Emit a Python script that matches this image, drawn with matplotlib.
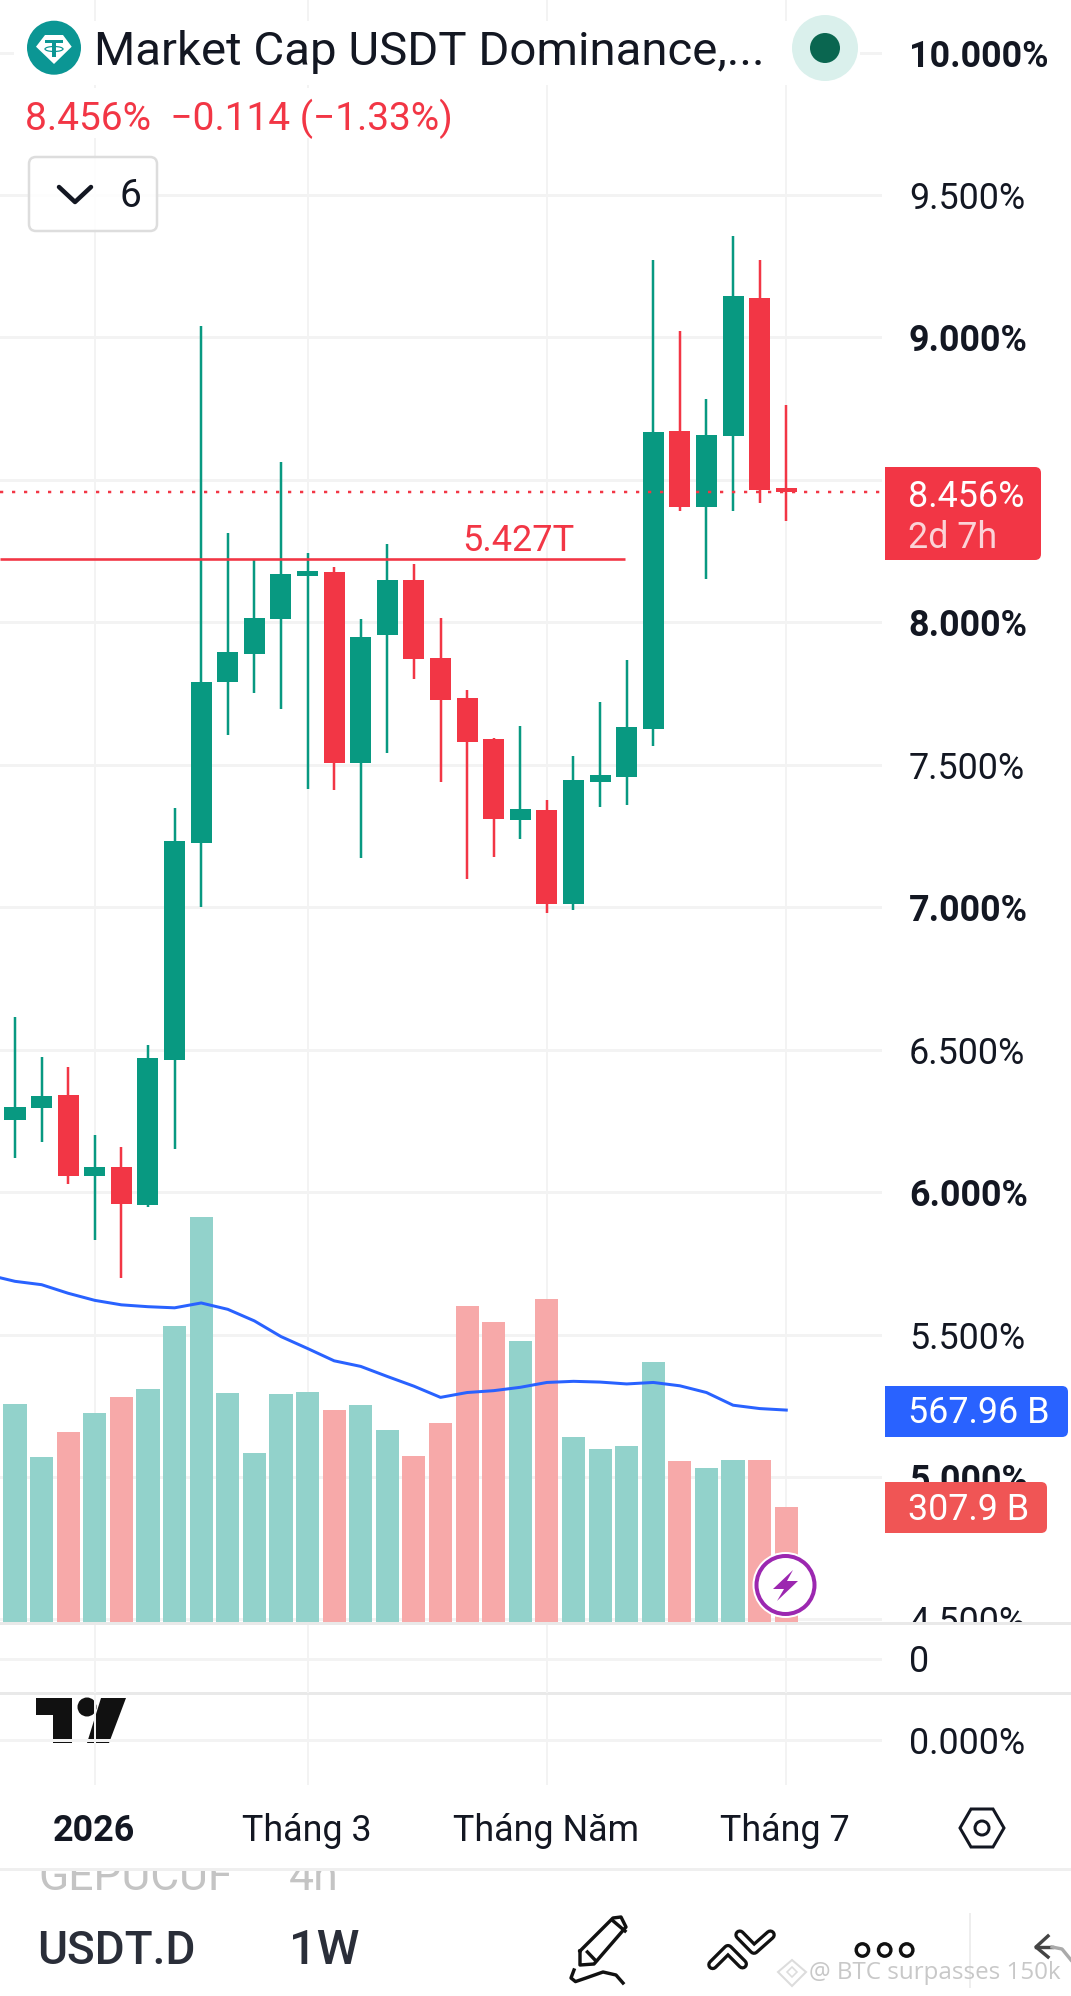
import matplotlib
matplotlib.use("Agg")
import matplotlib.pyplot as plt
from matplotlib.patches import Circle, Polygon, FancyBboxPatch, Rectangle, Ellipse
from matplotlib.lines import Line2D
from matplotlib.path import Path
from matplotlib.patches import PathPatch

plt.rcParams['font.family'] = ['Roboto', 'DejaVu Sans']

# ---------- data ----------
opens = [6.253, 6.295, 6.342, 6.056, 6.0875, 5.956, 6.4625, 7.227, 7.792, 7.889, 8.011, 8.1625, 8.177, 7.506, 7.955,
         8.148, 7.875, 7.736, 7.589, 7.306, 7.341, 7.0125, 7.439, 7.458, 7.625, 8.671, 8.404, 8.6525, 9.1375, 8.47]
closes = [6.297, 6.339, 6.058, 6.0875, 5.959, 6.469, 7.231, 7.792, 7.894, 8.016, 8.170, 8.18, 7.506, 7.95, 8.148,
          7.87, 7.727, 7.58, 7.311, 7.344, 7.0125, 7.448, 7.4625, 7.634, 8.669, 8.404, 8.6575, 9.144, 8.466, 8.456]
highs = [6.616, 6.475, 6.4375, 6.2, 6.158, 6.517, 7.347, 9.039, 8.315, 8.218, 8.564, 8.2425, 8.194, 8.0125, 8.276,
         8.206, 8.016, 7.764, 7.595, 7.6375, 7.375, 7.53, 7.719, 7.869, 9.27, 9.021, 8.784, 9.3575, 9.27, 8.7625]
lows = [6.12, 6.177, 6.03, 5.833, 5.697, 5.947, 6.152, 7.0, 7.605, 7.753, 7.695, 7.416, 7.4125, 7.173, 7.54,
        7.8, 7.439, 7.1, 7.177, 7.241, 6.978, 6.989, 7.352, 7.359, 7.566, 8.39, 8.153, 8.39, 8.4175, 8.354]
volumes = [584, 442, 509, 559, 602, 624, 793, 1085, 614, 452, 611, 616, 567, 581, 514, 444, 532, 846, 804, 753, 866,
           497, 464, 472, 696, 432, 412, 434, 434, 307.9]
ma_x = list(range(-1, 30))
ma_values = [930, 913, 904, 881, 862, 850, 845, 842, 855, 838, 807, 765, 733, 700, 685, 658, 632, 602, 615, 620, 629,
             642, 645, 643, 638, 642, 633, 615, 581, 572, 567.96]
major_ticks = [10.0, 9.5, 9.0, 8.5, 8.0, 7.5, 7.0, 6.5, 6.0, 5.5, 5.0, 4.5]
bold_ticks = [10.0, 9.0, 8.0, 7.0, 6.0, 5.0]
time_idx = [3, 11, 20, 29]
time_labels = ['2026', 'Tháng 3', 'Tháng Năm', 'Tháng 7']
last_price = 8.456
level_price = 8.221
level_label = '5.427T'

# ---------- layout ----------
W, H = 1071, 1996
DPI = 100
PX = 0.72
GREEN, RED = '#089981', '#f23645'
VGREEN, VRED = '#92d2cb', '#f7a9a9'
GRID = '#f3f3f3'
TXT = '#131722'
FS = 25.8
fig = plt.figure(figsize=(W / DPI, H / DPI), dpi=DPI, facecolor='white')


def make_ax(x0, y0, x1, y1, z):
    return fig.add_axes([x0 / W, 1 - y1 / H, (x1 - x0) / W, (y1 - y0) / H], zorder=z)


PLOT_R = 882
xlim = (-0.564, 32.6)
PPX = 284.9
ax = make_ax(0, 0, PLOT_R, 1623, 1)
ax.set_xlim(*xlim)
ax.set_ylim(10 - (1623 - 52.5) / PPX, 10 + 52.5 / PPX)
for s in ax.spines.values():
    s.set_visible(False)
ax.set_xticks([])
for t in major_ticks:
    ax.axhline(t, color=GRID, lw=3 * PX, zorder=0)
for i in time_idx:
    ax.axvline(i, color=GRID, lw=2 * PX, zorder=0)

n = len(opens)
for i in range(n):
    up = closes[i] >= opens[i]
    c = GREEN if up else RED
    ax.vlines(i, lows[i], highs[i], color=c, lw=2.5 * PX, zorder=3)
    lo, hi = min(opens[i], closes[i]), max(opens[i], closes[i])
    ax.bar(i, hi - lo, bottom=lo, width=0.79, color=c, lw=0, zorder=3)

ax.axhline(last_price, color=RED, lw=2.5 * PX, ls=(0, (1.3, 3.5)), zorder=4)
ax.plot([xlim[0], 22.95], [level_price, level_price], color=RED, lw=2.6 * PX, zorder=4, solid_capstyle='butt')

vol = ax.twinx()
vol.set_zorder(2)
vol.set_xlim(*xlim)
vol.set_ylim(-1 * 2.68, 1622 * 2.68)
vol.axis('off')
vol.bar(range(n), volumes, width=0.87, lw=0, zorder=2,
        color=[VGREEN if closes[i] >= opens[i] else VRED for i in range(n)])
vol.plot(ma_x, ma_values, color='#2962ff', lw=3 * PX, zorder=3)

ax.yaxis.tick_right()
ax.set_yticks(major_ticks)
ax.set_yticklabels([f'{t:.3f}%' for t in major_ticks], fontsize=FS, color=TXT)
for t, lab in zip(major_ticks, ax.get_yticklabels()):
    if t in bold_ticks:
        lab.set_fontweight('bold')
    if t == 8.5:
        lab.set_visible(False)
ax.tick_params(axis='y', length=0, pad=19.3)

# lower panes
for (y0, y1, gy, label) in [(1625, 1693, 1658.5, '0'), (1695, 1785, 1739.5, '0.000%')]:
    p = make_ax(0, y0, PLOT_R, y1, 6)
    p.patch.set_alpha(0)
    p.set_xlim(*xlim)
    p.set_ylim(-(y1 - gy), gy - y0)
    for s in p.spines.values():
        s.set_visible(False)
    p.set_xticks([])
    p.yaxis.tick_right()
    p.set_yticks([0])
    p.set_yticklabels([label], fontsize=FS, color=TXT)
    p.tick_params(axis='y', length=0, pad=19.3)
    p.axhline(0, color=GRID, lw=3 * PX, zorder=0)
    for i in time_idx:
        p.axvline(i, color=GRID, lw=2 * PX, zorder=0)

# chrome overlay in pixel coordinates
o = fig.add_axes([0, 0, 1, 1], zorder=5)
o.set_xlim(0, W)
o.set_ylim(H, 0)
o.axis('off')
o.patch.set_alpha(0)

o.add_patch(Rectangle((0, 1624), W, 60, fc='white', ec='none', zorder=1))
o.add_patch(Rectangle((0, 1621.5), W, 3.5, fc='#e9e9e9', ec='none', zorder=2))
o.add_patch(Rectangle((0, 1691.5), W, 3.5, fc='#e9e9e9', ec='none', zorder=2))
o.add_patch(Rectangle((0, 1785), W, 211, fc='white', ec='none', zorder=1))
o.add_patch(Rectangle((0, 1868), W, 2.5, fc='#efefef', ec='none', zorder=3))


def tag(x0, x1, y0, y1, color):
    r = 6
    verts = [(x0, y0), (x1 - r, y0), (x1, y0), (x1, y0 + r), (x1, y1 - r), (x1, y1), (x1 - r, y1), (x0, y1), (x0, y0)]
    codes = [Path.MOVETO, Path.LINETO, Path.CURVE3, Path.CURVE3, Path.LINETO, Path.CURVE3, Path.CURVE3, Path.LINETO,
             Path.CLOSEPOLY]
    o.add_patch(PathPatch(Path(verts, codes), fc=color, ec='none', zorder=5))


tag(885, 1041, 467, 560, '#f23645')
o.text(908, 497, '8.456%', fontsize=FS, color='white', va='center', zorder=6)
o.text(908, 538, '2d 7h', fontsize=FS, color='#fbd3d7', va='center', zorder=6)
tag(885, 1068, 1386, 1437, '#2962ff')
o.text(908, 1413, '567.96 B', fontsize=FS, color='white', va='center', zorder=6)
tag(885, 1047, 1482, 1533, '#f05555')
o.text(908, 1510, '307.9 B', fontsize=FS, color='white', va='center', zorder=6)

# header
o.add_patch(Rectangle((14, 21), 846, 64, fc='white', ec='none', zorder=1))
o.add_patch(Rectangle((20, 88), 435, 50, fc='white', ec='none', zorder=1))
o.add_patch(Circle((54, 47.7), 27, fc='#0b9694', ec='none', zorder=3))
o.add_patch(Polygon([(45, 35), (36, 46.7), (54, 64), (71.7, 46.7), (63, 35)], fc='white', ec='none', zorder=4))
o.add_patch(Rectangle((45, 39.5), 18, 3, fc='#0b9694', ec='none', zorder=5))
o.add_patch(Rectangle((51.7, 39.5), 4.6, 17.5, fc='#0b9694', ec='none', zorder=5))
o.add_patch(Ellipse((54, 49), 18, 5, fc='none', ec='#0b9694', lw=1.2 * PX, zorder=5))
o.text(94, 52, 'Market Cap USDT Dominance,...', fontsize=34.1, color=TXT, va='center', zorder=6)
o.add_patch(Circle((825, 48), 33, fc='#daf0ec', ec='none', zorder=3))
o.add_patch(Circle((825, 48), 15, fc='#0a6650', ec='none', zorder=4))
o.text(25, 119, '8.456%  −0.114 (−1.33%)', fontsize=28, color=RED, va='center', zorder=6)
o.add_patch(FancyBboxPatch((29, 157), 128, 74, boxstyle='round,pad=0,rounding_size=7', fc=(1, 1, 1, 0.85), ec='#dddddd', lw=2.5 * PX, zorder=3))
o.add_line(Line2D([59, 75, 91], [187, 202, 187], color=TXT, lw=4.5 * PX, zorder=6, solid_capstyle='round'))
o.text(120, 196, '6', fontsize=28, color=TXT, va='center', zorder=6)
o.text(518, 541, level_label, fontsize=26, color=RED, va='center', ha='center', zorder=6)

# TV logo
o.add_patch(Polygon([(35.5, 1698), (72.4, 1698), (72.4, 1743), (53, 1743), (53, 1715), (35.5, 1715)], fc='#111111', ec='none', zorder=7))
o.add_patch(Circle((87, 1707), 9.5, fc='#111111', ec='none', zorder=7))
o.add_patch(Polygon([(101, 1698), (126, 1698), (109, 1743), (87, 1743)], fc='#111111', ec='none', zorder=7))

# lightning badge
o.add_patch(Circle((785.5, 1585), 33, fc='white', ec='none', zorder=6))
o.add_patch(Circle((785.5, 1585), 29, fc='white', ec='#9c27b0', lw=4 * PX, zorder=7))
o.add_patch(Polygon([(793, 1570), (773, 1589), (784, 1589), (777, 1601), (798, 1581), (787, 1581)], fc='#9c27b0', ec='none', zorder=8))

# time axis
for i, lab in zip(time_idx, time_labels):
    x = (i - xlim[0]) / (xlim[1] - xlim[0]) * PLOT_R
    o.text(x - 1, 1831, lab, fontsize=25.8, color=TXT, ha='center', va='center',
           fontweight='bold' if lab == '2026' else 'normal', zorder=6)
# settings hexagon
o.add_patch(Polygon([(960, 1828), (971, 1809), (993, 1809), (1004, 1828), (993, 1847), (971, 1847)], fc='white', ec=TXT, lw=3 * PX, zorder=6))
o.add_patch(Circle((982, 1828), 7, fc='white', ec=TXT, lw=3 * PX, zorder=7))

# behind toolbar
clip = Rectangle((0, 1870), W, 22, transform=o.transData)
for xt, st in [(38, 'GEPUCUF'), (289, '4h')]:
    tx = o.text(xt, 1878, st, fontsize=32, color='#c4c4c4', va='center', zorder=2)
    tx.set_clip_path(clip)
    tx.set_clip_on(True)

# toolbar
o.text(37, 1951, 'USDT.D', fontsize=33, color='#2a2e39', va='center', fontweight='medium', zorder=6)
o.text(289, 1951, '1W', fontsize=35, color='#2a2e39', va='center', fontweight='medium', zorder=6)
LW = 3.4 * PX
# pencil
o.add_line(Line2D([580, 613, 621, 626, 594, 580, 580], [1951, 1918, 1917, 1927, 1964, 1965, 1951], color='#111111', lw=LW, zorder=6))
o.add_line(Line2D([587.4, 596], [1952, 1961], color='#111111', lw=LW, zorder=6))
o.add_line(Line2D([612, 625], [1920, 1931], color='#111111', lw=LW, zorder=6))
o.add_line(Line2D([574, 571, 575.5, 586, 603, 616, 623], [1970, 1978, 1981.6, 1978, 1972, 1975, 1983], color='#111111', lw=LW, zorder=6))
# drawing tool
for xs, ys in [([712.7, 728, 742.5], [1964.7, 1949.4, 1964]), ([739.8, 754, 770.3], [1934.9, 1949.4, 1934.9])]:
    o.add_line(Line2D(xs, ys, color='#111111', lw=11 * PX, zorder=6, solid_capstyle='round', solid_joinstyle='round'))
    o.add_line(Line2D(xs, ys, color='white', lw=4.5 * PX, zorder=7, solid_capstyle='round', solid_joinstyle='round'))
for cx in [862.4, 884.7, 906.7]:
    o.add_patch(Circle((cx, 1950), 6.2, fc='white', ec='#111111', lw=LW, zorder=6))
o.add_line(Line2D([970, 970], [1914, 1987], color='#eeeeee', lw=2 * PX, zorder=4))
o.add_line(Line2D([1048, 1036, 1048], [1936, 1947, 1957], color='#444444', lw=LW, zorder=6))
o.add_line(Line2D([1036, 1052], [1947, 1947], color='#444444', lw=LW, zorder=6))
o.add_line(Line2D([1052, 1062, 1071], [1947, 1949, 1960], color='#aaaaaa', lw=LW, zorder=6))
# watermark
o.add_patch(Polygon([(792, 1960), (806, 1972), (792, 1986), (778, 1972)], fc='none', ec='#dcdcdc', lw=2 * PX, zorder=7))
o.add_patch(Polygon([(792, 1967), (797, 1972), (792, 1977), (787, 1972)], fc='none', ec='#dcdcdc', lw=1.6 * PX, zorder=7))
o.text(809, 1973, '@ BTC surpasses 150k', fontsize=17.4, family='Open Sans', color='#c8c8c8', va='center', zorder=7)

fig.savefig('out.png', dpi=DPI)
